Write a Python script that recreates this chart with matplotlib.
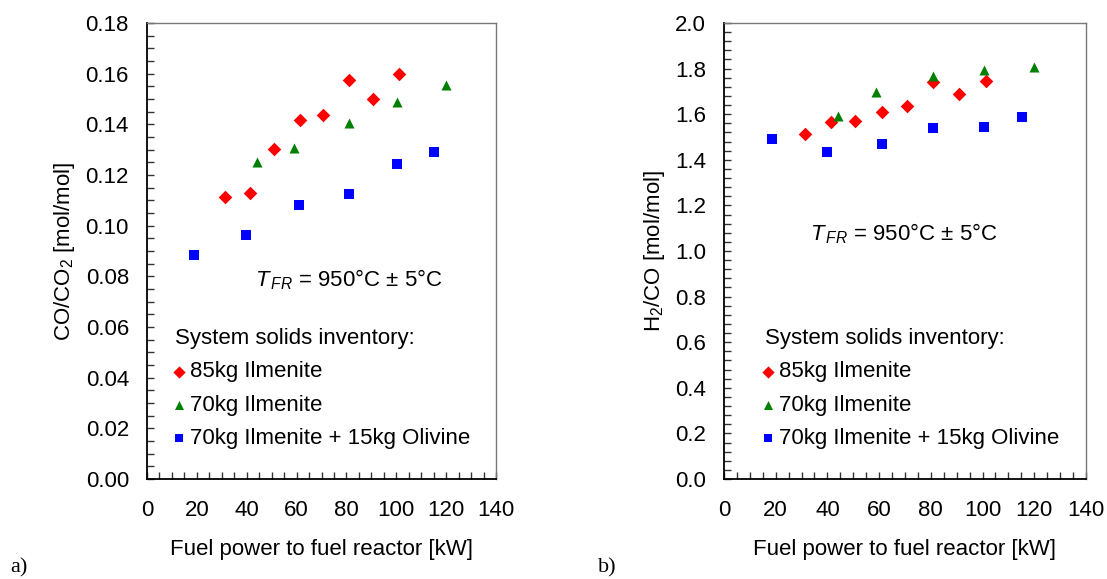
import numpy as np
import matplotlib
matplotlib.use('Agg')
import matplotlib.pyplot as plt
from matplotlib.ticker import MultipleLocator, FormatStrFormatter

plt.rcParams['font.family'] = ['Liberation Sans', 'DejaVu Sans']
plt.rcParams['mathtext.fontset'] = 'custom'
plt.rcParams['mathtext.rm'] = 'Liberation Sans'
plt.rcParams['mathtext.it'] = 'Liberation Sans:italic'

# fuel power [kW] for each inventory
p_85 = [31.2, 41.3, 50.8, 61.2, 70.6, 81.0, 90.8, 101.2]
p_70 = [44.1, 58.8, 81.0, 100.4, 119.9]
p_oli = [18.7, 39.9, 61.1, 80.9, 100.4, 115.1]

# a) CO/CO2
co_85 = [0.1114, 0.1129, 0.1303, 0.1416, 0.1437, 0.1574, 0.1501, 0.1600]
co_70 = [0.1252, 0.1305, 0.1406, 0.1489, 0.1554]
co_oli = [0.0885, 0.0962, 0.1082, 0.1124, 0.1243, 0.1291]

# b) H2/CO
h2_85 = [1.514, 1.566, 1.570, 1.611, 1.636, 1.741, 1.689, 1.744]
h2_70 = [1.593, 1.699, 1.767, 1.794, 1.806]
h2_oli = [1.4925, 1.433, 1.468, 1.539, 1.542, 1.589]

labels = ['85kg Ilmenite', '70kg Ilmenite', '70kg Ilmenite + 15kg Olivine']

FS = 16


def style_axes(ax, ymax, ymajor, yminor, yfmt):
    ax.set_xlim(0, 140)
    ax.set_ylim(0, ymax)
    ax.xaxis.set_major_locator(MultipleLocator(20))
    ax.xaxis.set_minor_locator(MultipleLocator(5))
    ax.yaxis.set_major_locator(MultipleLocator(ymajor))
    ax.yaxis.set_minor_locator(MultipleLocator(yminor))
    ax.yaxis.set_major_formatter(FormatStrFormatter(yfmt))
    ax.tick_params(which='both', direction='in', length=5, width=1, color='#333333',
                   labelsize=FS)
    ax.tick_params(axis='y', pad=13)
    ax.tick_params(axis='x', pad=15)
    for s in ('left', 'bottom'):
        ax.spines[s].set_color('black')
        ax.spines[s].set_linewidth(1.3)
    for s in ('top', 'right'):
        ax.spines[s].set_color('#777777')
        ax.spines[s].set_linewidth(1.0)
    ax.set_xlabel('Fuel power to fuel reactor [kW]', fontsize=FS, labelpad=13)


def draw(ax, y85, y70, yoli):
    ax.scatter(p_85, y85, marker='D', s=48, color='#ff0000', label=labels[0], zorder=3, linewidths=0)
    ax.scatter(p_70, y70, marker='^', s=52, color='#008000', label=labels[1], zorder=3, linewidths=0)
    ax.scatter(p_oli, yoli, marker='s', s=46, color='#0000ff', label=labels[2], zorder=3, linewidths=0)


fig = plt.figure(figsize=(11.07, 5.79), dpi=100)
ax1 = fig.add_axes([0.1328, 0.1727, 0.3153, 0.7876])
ax2 = fig.add_axes([0.6540, 0.1727, 0.3270, 0.7876])

draw(ax1, co_85, co_70, co_oli)
style_axes(ax1, 0.18, 0.02, 0.005, '%.2f')
ax1.set_ylabel('CO/CO$_2$ [mol/mol]', fontsize=FS, labelpad=6)
ax1.text(0.309, 0.436, r'$T_{\,FR}$ = 950°C ± 5°C', transform=ax1.transAxes,
         fontsize=FS, ha='left', va='center')

draw(ax2, h2_85, h2_70, h2_oli)
style_axes(ax2, 2.0, 0.2, 0.04, '%.1f')
ax2.set_ylabel('H$_2$/CO [mol/mol]', fontsize=FS, labelpad=6)
ax2.text(0.238, 0.539, r'$T_{\,FR}$ = 950°C ± 5°C', transform=ax2.transAxes,
         fontsize=FS, ha='left', va='center')

for ax, x0 in ((ax1, 0.037), (ax2, 0.07)):
    leg = ax.legend(loc='upper left', bbox_to_anchor=(x0, 0.365), frameon=False,
                    title='System solids inventory:', title_fontsize=FS, fontsize=FS,
                    handletextpad=0.35, handlelength=0.3, labelspacing=0.55,
                    markerscale=0.9, alignment='left', borderpad=0.2)

fig.text(0.009, 0.02, 'a)', fontsize=FS, family='Liberation Serif', va='center')
fig.text(0.54, 0.02, 'b)', fontsize=FS, family='Liberation Serif', va='center')

fig.savefig('out.png', dpi=100)
